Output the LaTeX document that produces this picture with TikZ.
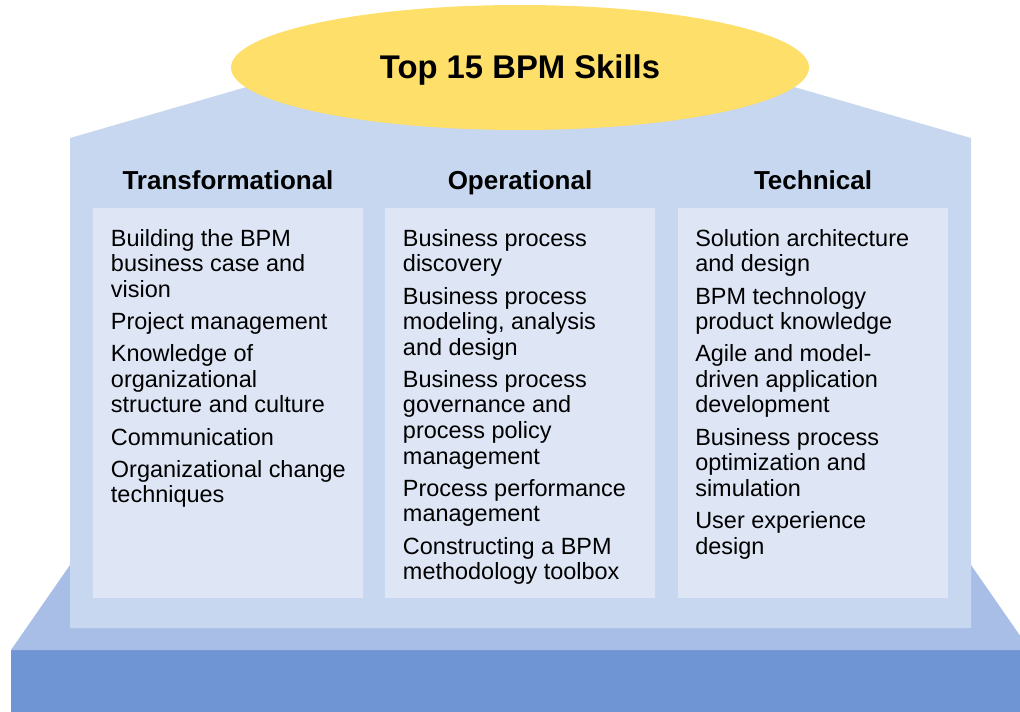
\documentclass[tikz,border=0pt]{standalone}
\usepackage{fontspec}
\setmainfont{Liberation Sans}
\usetikzlibrary{positioning}
\definecolor{wall}{HTML}{C6D7EF}
\definecolor{paper}{HTML}{DEE6F5}
\definecolor{plinth}{HTML}{A8BEE6}
\definecolor{ground}{HTML}{6F95D5}
\definecolor{sun}{HTML}{FEDF6A}
\begin{document}
\begin{tikzpicture}[x=0.75pt, y=-0.75pt,
  panel/.style = {fill=paper, inner sep=0pt, minimum width=202.5pt, minimum height=292.5pt, anchor=north west},
  head/.style = {font=\bfseries\fontsize{19.5}{22}\selectfont, anchor=base},
  skills/.style = {font=\fontsize{17.6}{19.2}\selectfont, align=left, anchor=north west, inner sep=0pt}]
\clip (0,0) rectangle (1020,711);
% base and steps
\fill[ground] (11,650) rectangle (1030,720);
\fill[plinth] (11,650) -- (70,565) -- (971,565) -- (1030,650) -- cycle;
% house
\fill[wall] (70,628) -- (70,138) -- (520,8) -- (971,138) -- (971,628) -- cycle;
\foreach \x/\name in {93/trans, 385/oper, 678/tech}
  \node[panel] (\name) at (\x,208) {};
% roof label
\fill[sun] (520,67.5) ellipse [x radius=289, y radius=62.5];
\node[anchor=base, font=\bfseries\fontsize{24.6}{28}\selectfont] (title) at (520,78) {Top 15 BPM Skills};
% column heads
\node[head] (h1) at (228,189.5) {Transformational};
\node[head] (h2) at (520,189.5) {Operational};
\node[head] (h3) at (813,189.5) {Technical};
% skills
\node[skills] (s1) at (110.7,229) {Building the BPM\\business case and\\vision\\[4.9pt]
  Project management\\[4.9pt]
  Knowledge of\\organizational\\structure and culture\\[4.9pt]
  Communication\\[4.9pt]
  Organizational change\\techniques};
\node[skills] (s2) at (402.7,229) {Business process\\discovery\\[4.9pt]
  Business process\\modeling, analysis\\and design\\[4.9pt]
  Business process\\governance and\\process policy\\management\\[4.9pt]
  Process performance\\management\\[4.9pt]
  Constructing a BPM\\methodology toolbox};
\node[skills] (s3) at (695,229) {Solution architecture\\and design\\[4.9pt]
  BPM technology\\product knowledge\\[4.9pt]
  Agile and model-\\driven application\\development\\[4.9pt]
  Business process\\optimization and\\simulation\\[4.9pt]
  User experience\\design};
\end{tikzpicture}
\end{document}
